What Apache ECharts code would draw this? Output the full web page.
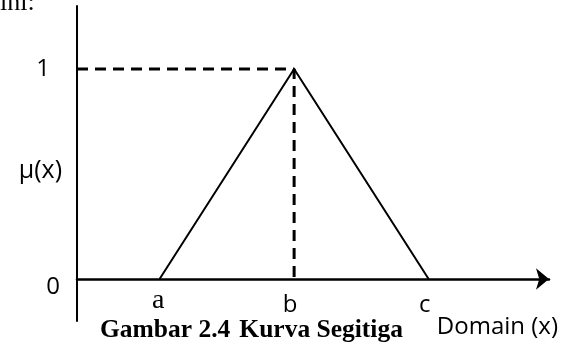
<!DOCTYPE html>
<html>
<head>
<meta charset="utf-8">
<script src="https://cdn.jsdelivr.net/npm/echarts@6/dist/echarts.min.js"></script>
<style>
  html, body { margin: 0; padding: 0; background: #fff; }
  #chartBox { width: 562px; height: 345px; }
</style>
</head>
<body>
<div id="chartBox"></div>
<script>
// kurva segitiga: titik a, b, c pada domain
const domainPoints = [1.75, 4.6, 7.45]
const domainLabels = ['a', 'b', 'c']
const membership = [0, 1, 0]
const yTickValues = [0, 1]
const yTickLabels = ['0', '1']

const serif = '"Liberation Serif", "Times New Roman", serif'
const sans = '"Open Sans", "Liberation Sans", sans-serif'

const chart = echarts.init(document.getElementById('chartBox'))

const triangle = domainPoints.map((x, i) => [x, membership[i]])
const peak = triangle[1]
const guide = [[0, peak[1]], peak, [peak[0], 0]]

chart.setOption({
  animation: false,
  title: {
    text: '{b|Gambar 2.4}{r|Kurva Segitiga}',
    left: 95,
    top: 312,
    textStyle: {
      rich: {
        b: { fontFamily: serif, fontWeight: 'bold', fontSize: 25.5, color: '#000' },
        r: { fontFamily: serif, fontSize: 25.5, color: '#000', padding: [0, 0, 0, 9] }
      }
    }
  },
  graphic: [
    {
      type: 'text',
      left: 0,
      top: -10,
      style: { text: 'ini:', font: '26px ' + serif, fill: '#000' }
    }
  ],
  grid: { left: 77, right: 13, top: 6, bottom: 24, outerBoundsMode: 'none', containLabel: false },
  xAxis: {
    type: 'value',
    min: 0,
    max: 10,
    offset: -42,
    name: '{d|Domain (x)}',
    nameLocation: 'end',
    nameGap: 9,
    nameMoveOverlap: false,
    nameTextStyle: {
      align: 'right',
      verticalAlign: 'middle',
      rich: {
        d: { fontFamily: sans, fontSize: 24, color: '#000', padding: [96, 0, 0, 0] }
      }
    },
    splitLine: { show: false },
    axisTick: { show: false },
    axisLine: {
      onZero: false,
      symbol: ['none', 'arrow'],
      symbolSize: [16, 13],
      lineStyle: { color: '#000', width: 2.5 }
    },
    axisLabel: {
      customValues: domainPoints,
      margin: 8,
      formatter: function (val) {
        const i = domainPoints.indexOf(val)
        const name = domainLabels[i]
        return name === 'a' ? '{s|' + name + '}' : '{n|' + name + '}'
      },
      rich: {
        s: { fontFamily: serif, fontSize: 28, color: '#000', padding: [0, 3, 0, 0] },
        n: { fontFamily: sans, fontSize: 24, color: '#000', padding: [6, 8, 0, 0] }
      }
    }
  },
  yAxis: {
    type: 'value',
    min: -0.2,
    max: 1.3,
    name: '{m|μ(x)}',
    nameLocation: 'middle',
    nameRotate: 0,
    nameGap: 15,
    nameMoveOverlap: false,
    nameTextStyle: {
      rich: {
        m: { fontFamily: sans, fontSize: 25, color: '#000', padding: [15, 0, 0, 0] }
      }
    },
    splitLine: { show: false },
    axisTick: { show: false },
    axisLine: { onZero: false, lineStyle: { color: '#000', width: 2 } },
    axisLabel: {
      customValues: yTickValues,
      margin: 17,
      formatter: function (val) {
        const i = yTickValues.indexOf(val)
        return i === 0 ? '{z|' + yTickLabels[i] + '}' : '{o|' + yTickLabels[i] + '}'
      },
      rich: {
        z: { fontFamily: sans, fontSize: 24, color: '#000', padding: [16, 0, 0, 0] },
        o: { fontFamily: sans, fontSize: 24, color: '#000', padding: [0, 10, 0, 0] }
      }
    }
  },
  series: [
    {
      name: 'garis bantu',
      type: 'line',
      data: guide,
      symbol: 'none',
      lineStyle: { color: '#000', width: 3, type: [11, 7] }
    },
    {
      name: 'segitiga',
      type: 'line',
      data: triangle,
      symbol: 'none',
      lineStyle: { color: '#000', width: 2 }
    }
  ]
})
</script>
</body>
</html>
